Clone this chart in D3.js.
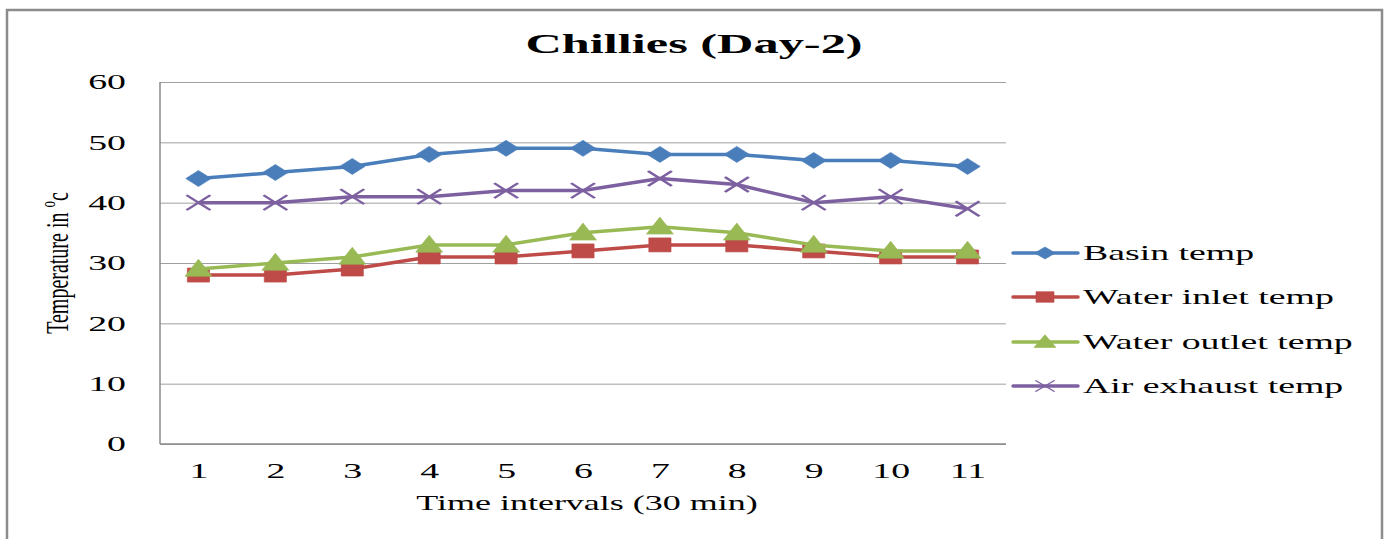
<!DOCTYPE html>
<html>
<head>
<meta charset="utf-8">
<script src="https://cdn.jsdelivr.net/npm/d3@7"></script>
<style>
  body { margin: 0; background: #fff; }
  text { font-family: "Liberation Serif", "Times New Roman", serif; fill: #000; }
</style>
</head>
<body>
<div id="chart"></div>
<script>
const width = 1389;
const height = 539;

// data
const categories = ["1","2","3","4","5","6","7","8","9","10","11"];
const basinTemp   = [44,45,46,48,49,49,48,48,47,47,46];
const inletTemp   = [28,28,29,31,31,32,33,33,32,31,31];
const outletTemp  = [29,30,31,33,33,35,36,35,33,32,32];
const exhaustTemp = [40,40,41,41,42,42,44,43,40,41,39];
const yTicks = [0,10,20,30,40,50,60];

const seriesNames = ["Basin temp","Water inlet temp","Water outlet temp","Air exhaust temp"];
const seriesValues = [basinTemp, inletTemp, outletTemp, exhaustTemp];
const seriesColors = ["#4A7EBB","#BE4B48","#98B954","#7D60A0"];

// the source picture is stretched sideways, so text and markers are too
const SX = 1.8;

const plot = {left:160, right:1006, top:82, bottom:444};

// marker shapes (drawn unstretched, then scaled by SX)
const diamond = { draw(ctx, s){ ctx.moveTo(0,-s); ctx.lineTo(s,0); ctx.lineTo(0,s); ctx.lineTo(-s,0); ctx.closePath(); } };
const square = { draw(ctx, s){ ctx.rect(-s,-s,2*s,2*s); } };
const triangle = { draw(ctx, s){ ctx.moveTo(0,-s*1.15); ctx.lineTo(s,s*0.85); ctx.lineTo(-s,s*0.85); ctx.closePath(); } };
const cross = { draw(ctx, s){ ctx.moveTo(-s,-s); ctx.lineTo(s,s); ctx.moveTo(s,-s); ctx.lineTo(-s,s); } };
const seriesSymbols = [diamond, square, triangle, cross];
const markerSize = [8, 7, 8.5, 7.5];

const svg = d3.select("#chart")
  .append("svg")
  .attr("width", width)
  .attr("height", height);

svg.append("rect")
  .attr("x", 7).attr("y", 10)
  .attr("width", 1375).attr("height", 560)
  .attr("fill", "#fff")
  .attr("stroke", "#8c8c8c")
  .attr("stroke-width", 2.5);

const x = d3.scalePoint()
  .domain(categories)
  .range([plot.left, plot.right])
  .padding(0.5);

const y = d3.scaleLinear()
  .domain([0, 60])
  .range([plot.bottom, plot.top]);

function stretchText(sel){
  sel.each(function(){
    const tx = +(this.getAttribute("x") || 0);
    d3.select(this).attr("x", 0)
      .attr("transform", `translate(${tx},0) scale(${SX},1)`);
  });
}

// gridlines
svg.append("g")
  .attr("transform", `translate(${plot.left},0)`)
  .call(d3.axisLeft(y).tickValues(yTicks).tickSize(-(plot.right - plot.left)).tickFormat(""))
  .call(g => g.select(".domain").remove())
  .call(g => g.selectAll("line").attr("stroke", "#a0a0a0").attr("stroke-width", 1));

// axis lines
svg.append("line")
  .attr("x1", plot.left).attr("x2", plot.left)
  .attr("y1", plot.top).attr("y2", plot.bottom)
  .attr("stroke", "#8a8a8a").attr("stroke-width", 1.5);
svg.append("line")
  .attr("x1", plot.left).attr("x2", plot.right)
  .attr("y1", plot.bottom).attr("y2", plot.bottom)
  .attr("stroke", "#8a8a8a").attr("stroke-width", 1.5);

// y tick labels
svg.append("g")
  .attr("transform", `translate(${plot.left},0)`)
  .call(d3.axisLeft(y).tickValues(yTicks).tickSize(0).tickPadding(34))
  .call(g => g.select(".domain").remove())
  .call(g => g.selectAll("text")
    .attr("font-size", 21)
    .attr("font-family", "Liberation Serif, Times New Roman, serif")
    .attr("fill", "#000")
    .call(stretchText));

// x tick labels
svg.append("g")
  .attr("transform", `translate(0,${plot.bottom})`)
  .call(d3.axisBottom(x).tickSize(0).tickPadding(19))
  .call(g => g.select(".domain").remove())
  .call(g => g.selectAll("text")
    .attr("font-size", 21)
    .attr("font-family", "Liberation Serif, Times New Roman, serif")
    .attr("fill", "#000")
    .call(stretchText));

// title
svg.append("text")
  .attr("transform", `translate(694,53) scale(${SX},1)`)
  .attr("text-anchor", "middle")
  .attr("font-size", 28)
  .attr("font-weight", "bold")
  .text("Chillies (Day-2)");

// x axis title
svg.append("text")
  .attr("transform", `translate(587,510) scale(${SX},1)`)
  .attr("text-anchor", "middle")
  .attr("font-size", 20)
  .text("Time intervals (30 min)");

// y axis title
const yTitle = svg.append("text")
  .attr("transform", "translate(68,263) rotate(-90) scale(1,1.6)")
  .attr("text-anchor", "middle")
  .attr("font-size", 20);
yTitle.append("tspan").text("Temperature in ");
yTitle.append("tspan").attr("font-size", 13).attr("dy", -8).text("o");
yTitle.append("tspan").attr("dy", 8).text("c");

// series
const line = d3.line()
  .x((d, i) => x(categories[i]))
  .y(d => y(d));

seriesValues.forEach((vals, k) => {
  const g = svg.append("g");
  g.append("path")
    .datum(vals)
    .attr("d", line)
    .attr("fill", "none")
    .attr("stroke", seriesColors[k])
    .attr("stroke-width", 3.5)
    .attr("stroke-linejoin", "round");

  const isCross = seriesSymbols[k] === cross;
  g.selectAll("path.marker")
    .data(vals)
    .join("path")
    .attr("class", "marker")
    .attr("d", d3.symbol().type(seriesSymbols[k]).size(markerSize[k]))
    .attr("transform", (d, i) => `translate(${x(categories[i])},${y(d)}) scale(${SX * 0.88},1)`)
    .attr("fill", isCross ? "none" : seriesColors[k])
    .attr("stroke", seriesColors[k])
    .attr("stroke-width", isCross ? 2 : 0.5);
});

// legend
const legendY = [253, 297, 342, 386];
const legend = svg.append("g");
seriesNames.forEach((name, k) => {
  const item = legend.append("g").attr("transform", `translate(0,${legendY[k]})`);
  item.append("line")
    .attr("x1", 1013).attr("x2", 1078)
    .attr("stroke", seriesColors[k])
    .attr("stroke-width", 3.5)
    .attr("stroke-linecap", "round");
  const isCross = seriesSymbols[k] === cross;
  item.append("path")
    .attr("d", d3.symbol().type(seriesSymbols[k]).size(markerSize[k] * 0.75))
    .attr("transform", `translate(1045,0) scale(${SX * 0.95},1)`)
    .attr("fill", isCross ? "none" : seriesColors[k])
    .attr("stroke", seriesColors[k])
    .attr("stroke-width", isCross ? 1 : 0.5);
  item.append("text")
    .attr("transform", `translate(1083,7) scale(${SX},1)`)
    .attr("font-size", 21)
    .text(name);
});
</script>
</body>
</html>
